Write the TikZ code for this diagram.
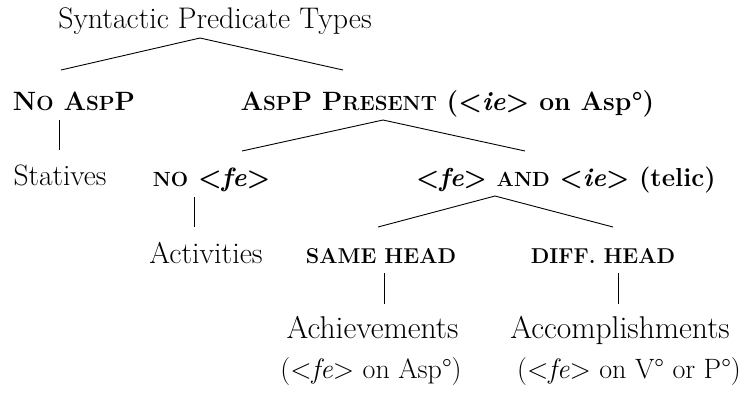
\documentclass[tikz,border=0pt]{standalone}
\newcommand\fsz[1]{\fontsize{#1}{1.2\dimexpr#1pt\relax}\selectfont}
\newcommand\bfsz{\fontsize{26.5}{31}\selectfont}
\newcommand\sm[1]{{\fontsize{20.5}{24}\selectfont #1}}
\tikzset{
  lbl/.style={anchor=base, inner sep=0pt},
  blbl/.style={anchor=base, inner sep=0pt, font=\bfsz\bfseries},
  capslbl/.style={anchor=base, inner sep=0pt, font=\fsz{21.5}\bfseries},
  branch/.style={line width=0.9pt}
}
\begin{document}
\begin{tikzpicture}[x=1pt,y=-1pt]
\useasboundingbox (0,0) rectangle (748,392);
% labels
\node[lbl, font=\fsz{29.8}] (title) at (215,28) {Syntactic Predicate Types};
\node[blbl] (noasp) at (74,110) {N\sm{O} A\sm{SP}P};
\node[blbl] (asp)   at (447.5,110) {A\sm{SP}P P\sm{RESENT} (<\textit{ie}> on Asp°)};
\node[lbl, font=\fsz{29.5}] (stat)  at (60,185) {Statives};
\node[blbl] (nofe)  at (211.5,186) {\sm{NO} <\textit{fe}>};
\node[blbl, font=\fontsize{26}{31}\selectfont\bfseries] (telic) at (566,186) {<\textit{fe}> \sm{AND} <\textit{ie}> (telic)};
\node[lbl, font=\fsz{30}]   (act)   at (206,263) {Activities};
\node[capslbl] (same) at (381,263) {SAME HEAD};
\node[capslbl] (diff) at (603,263) {DIFF. HEAD};
\node[lbl, font=\fsz{31.5}] (ach)   at (372.5,338) {Achievements};
\node[lbl, font=\fsz{31.5}] (acc)   at (620,338) {Accomplishments};
\node[lbl, font=\fsz{28}]   (achp)  at (371,378) {(<\textit{fe}> on Asp°)};
\node[lbl, font=\fsz{28}]   (accp)  at (629,378) {(<\textit{fe}> on V° or P°)};
% branch points
\coordinate (t0) at (200,38);
\coordinate (t1) at (61,70);
\coordinate (t2) at (343,70);
\coordinate (n0) at (59,120);
\coordinate (n1) at (59,150);
\coordinate (a0) at (383,120);
\coordinate (a1) at (242,151);
\coordinate (a2) at (525,151);
\coordinate (f0) at (194,197);
\coordinate (f1) at (194,227);
\coordinate (c0) at (495,196);
\coordinate (c1) at (378,227);
\coordinate (c2) at (613,227);
\coordinate (s0) at (384,273);
\coordinate (s1) at (384,304);
\coordinate (d0) at (618,273);
\coordinate (d1) at (618,304);
\draw[branch] (t1) -- (t0) -- (t2);
\draw[branch] (n0) -- (n1);
\draw[branch] (a1) -- (a0) -- (a2);
\draw[branch] (f0) -- (f1);
\draw[branch] (c1) -- (c0) -- (c2);
\draw[branch] (s0) -- (s1);
\draw[branch] (d0) -- (d1);
\end{tikzpicture}
\end{document}
